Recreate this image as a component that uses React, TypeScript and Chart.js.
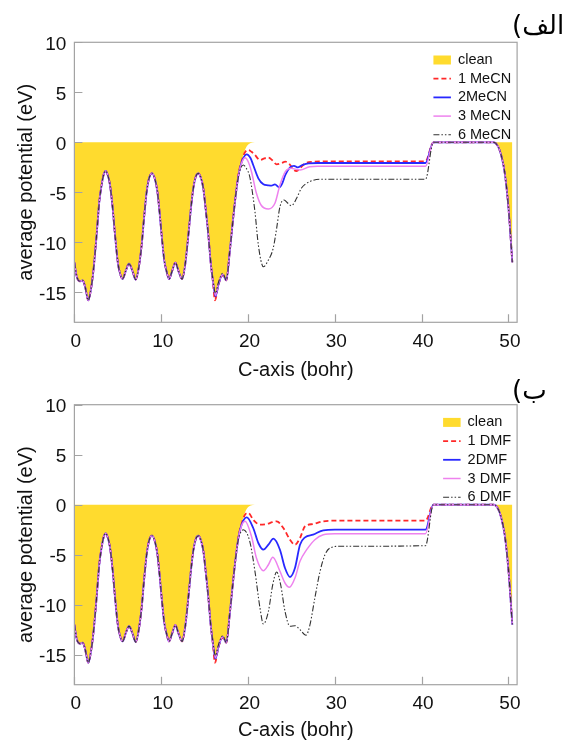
import React, { useEffect, useRef } from 'react';
import { Chart, registerables } from 'chart.js';
Chart.register(...registerables);

const FONT = '"Liberation Sans", Arial, sans-serif';
const X_TICKS = [0, 10, 20, 30, 40, 50];
const Y_TICKS = [-15, -10, -5, 0, 5, 10];

// shared slab profile (all curves coincide here)
const BASE_X = [0, 0.26, 0.65, 0.95, 1.22, 1.6, 1.87, 2.18, 2.56, 2.87, 3.14, 3.35, 3.6, 3.85, 4.1, 4.4, 4.68, 5.0, 5.25, 5.56, 5.9, 6.29, 6.7, 7.06, 7.4, 7.75, 8.05, 8.33, 8.6, 8.94, 9.25, 9.56, 9.8, 10.05, 10.35, 10.63, 10.9, 11.25, 11.63, 12.0, 12.4, 12.75, 13.13, 13.4, 13.7, 14.0, 14.28, 14.55, 14.85, 15.15, 15.43, 15.7];
const BASE_Y = [-12.0, -13.4, -13.9, -13.8, -14.4, -15.8, -14.9, -12.9, -9.27, -5.94, -4.27, -3.3, -2.87, -3.3, -4.27, -6.5, -9.27, -12.0, -13.1, -13.67, -12.9, -12.14, -12.9, -13.74, -12.6, -10.27, -7.3, -4.94, -3.6, -3.1, -3.6, -4.94, -6.9, -9.27, -11.8, -12.94, -13.67, -12.9, -12.04, -12.9, -13.67, -12.3, -9.27, -6.8, -4.6, -3.4, -3.1, -3.5, -4.6, -6.9, -9.27, -12.0];

// shared vacuum edge
const END_X = [48.3, 48.8, 49.2, 49.6, 50.0, 50.45];
const END_Y = [0, -0.4, -1.4, -3.2, -6.5, -12.0];

// clean
const CLEAN_X = [15.95, 16.27, 16.6, 17.08, 17.5, 17.9, 18.5, 18.9, 19.27, 19.6, 19.9, 20.3, 20.8];
const CLEAN_Y = [-13.6, -15.0, -14.0, -13.1, -13.8, -10.9, -5.9, -3.3, -1.9, -0.9, -0.35, -0.08, 0];

// MeCN panel
const MECN1_X = [15.95, 16.2, 16.55, 17.08, 17.5, 17.9, 18.5, 18.9, 19.3, 19.65, 20.04, 20.4, 20.8, 21.38, 21.9, 22.35, 22.8, 23.3, 23.8, 24.3, 24.8, 25.2, 25.6, 26.1, 26.6, 27.5, 28.5, 40.45, 41.35];
const MECN1_Y = [-13.9, -15.8, -14.4, -13.3, -13.8, -10.9, -5.9, -3.2, -1.8, -1.0, -0.77, -0.95, -1.27, -1.77, -1.6, -1.54, -1.8, -2.2, -2.1, -1.94, -2.2, -2.7, -2.87, -2.5, -2.1, -1.94, -1.9, -1.9, 0];
const MECN2_X = [15.95, 16.25, 16.6, 17.08, 17.5, 17.9, 18.5, 18.9, 19.3, 19.85, 20.3, 20.6, 21.19, 21.77, 22.3, 22.7, 23.1, 23.6, 23.95, 24.3, 24.84, 25.3, 25.7, 26.3, 27.0, 28.0, 40.45, 41.35];
const MECN2_Y = [-13.8, -15.4, -14.2, -13.2, -13.8, -10.9, -5.9, -3.3, -1.9, -1.2, -1.6, -2.27, -3.6, -4.2, -4.3, -4.34, -4.2, -4.5, -4.1, -3.27, -2.5, -2.35, -2.5, -2.25, -2.1, -2.07, -2.07, 0];
const MECN3_X = [15.95, 16.25, 16.6, 17.08, 17.5, 17.9, 18.5, 18.9, 19.3, 19.66, 20.0, 20.4, 20.97, 21.5, 22.35, 23.1, 23.68, 24.3, 24.99, 25.5, 26.0, 27.1, 28.0, 40.45, 41.35];
const MECN3_Y = [-13.8, -15.3, -14.1, -13.2, -13.8, -10.9, -5.9, -3.3, -2.0, -1.54, -1.9, -2.94, -5.1, -6.27, -6.67, -6.1, -4.27, -2.94, -2.6, -2.7, -2.77, -2.44, -2.4, -2.4, 0];
const MECN6_X = [15.95, 16.25, 16.6, 17.08, 17.5, 17.9, 18.5, 18.9, 19.2, 19.46, 19.8, 20.2, 20.8, 21.19, 21.77, 22.35, 22.9, 23.3, 23.68, 24.15, 24.6, 24.99, 25.6, 26.14, 27.1, 28.25, 40.45, 41.35];
const MECN6_Y = [-13.7, -15.1, -14.0, -13.1, -13.8, -10.9, -5.9, -3.4, -2.5, -2.27, -2.6, -3.44, -6.94, -10.27, -12.44, -11.77, -10.6, -8.6, -6.44, -5.77, -6.1, -6.34, -5.6, -4.6, -3.94, -3.7, -3.7, 0];

// DMF panel
const DMF1_X = [15.95, 16.2, 16.55, 17.08, 17.5, 17.9, 18.5, 18.9, 19.3, 19.65, 20.04, 20.6, 21.38, 22.15, 22.8, 23.3, 24.07, 24.84, 25.41, 25.99, 26.57, 27.5, 28.68, 30.0, 40.45, 41.35];
const DMF1_Y = [-13.9, -15.8, -14.4, -13.3, -13.8, -10.9, -5.9, -3.2, -1.8, -1.0, -0.83, -1.5, -2.0, -1.93, -1.75, -1.66, -2.33, -3.5, -4.0, -3.33, -2.16, -1.93, -1.66, -1.6, -1.6, 0];
const DMF2_X = [15.95, 16.25, 16.6, 17.08, 17.5, 17.9, 18.5, 18.9, 19.3, 19.85, 20.6, 21.19, 21.77, 22.35, 22.92, 23.68, 24.26, 24.84, 25.41, 25.99, 26.57, 27.5, 28.68, 30.0, 40.45, 41.35];
const DMF2_Y = [-13.8, -15.4, -14.2, -13.2, -13.8, -10.9, -5.9, -3.3, -1.9, -1.27, -2.33, -3.83, -4.5, -4.0, -3.4, -4.5, -6.33, -7.23, -6.33, -4.0, -3.26, -3.0, -2.56, -2.5, -2.5, 0];
const DMF3_X = [15.95, 16.25, 16.6, 17.08, 17.5, 17.9, 18.5, 18.9, 19.3, 19.66, 20.4, 20.97, 21.77, 22.35, 22.85, 23.68, 24.26, 24.76, 25.41, 25.99, 26.76, 27.7, 28.68, 30.0, 40.45, 41.35];
const DMF3_Y = [-13.8, -15.3, -14.1, -13.2, -13.8, -10.9, -5.9, -3.3, -2.0, -1.66, -3.16, -5.33, -6.6, -6.0, -5.26, -6.66, -7.83, -8.26, -7.33, -5.66, -4.5, -3.5, -3.0, -2.9, -2.9, 0];
const DMF6_X = [15.95, 16.25, 16.6, 17.08, 17.5, 17.9, 18.5, 18.9, 19.2, 19.46, 20.2, 20.8, 21.38, 21.77, 22.35, 22.85, 23.3, 23.76, 24.26, 24.84, 25.41, 25.99, 26.68, 27.14, 27.7, 28.3, 28.87, 29.45, 30.6, 40.45, 41.35];
const DMF6_Y = [-13.7, -15.1, -14.0, -13.1, -13.8, -10.9, -5.9, -3.4, -2.7, -2.5, -3.66, -6.66, -10.33, -11.93, -10.66, -8.0, -6.73, -8.0, -10.66, -12.16, -12.1, -12.5, -13.06, -12.0, -9.33, -6.66, -5.0, -4.33, -4.16, -4.1, 0];

const MECN_LABELS = ['clean', '1 MeCN', '2MeCN', '3 MeCN', '6 MeCN'];
const DMF_LABELS = ['clean', '1 DMF', '2DMF', '3 DMF', '6 DMF'];

const YELLOW = 'rgb(255,219,46)';
const STYLES = [
  { color: 'rgb(255,40,40)', width: 1.8, dash: [5, 3] },
  { color: 'rgb(40,40,255)', width: 1.8, dash: [] },
  { color: 'rgb(238,130,238)', width: 1.5, dash: [] },
  { color: 'rgb(50,50,50)', width: 1.1, dash: [6, 2, 1.5, 2, 1.5, 2] },
];

const pts = (xs: number[], ys: number[]) => xs.map((x, i) => ({ x, y: ys[i] }));
const series = (tx: number[], ty: number[]) => [...pts(BASE_X, BASE_Y), ...pts(tx, ty), ...pts(END_X, END_Y)];

const decor = {
  id: 'decor',
  afterDraw(chart: any, _args: any, opts: any) {
    const { ctx, chartArea: a, scales } = chart;
    ctx.save();
    ctx.strokeStyle = '#a3a3a3';
    ctx.lineWidth = 1.2;
    ctx.setLineDash([]);
    ctx.strokeRect(a.left, a.top, a.right - a.left, a.bottom - a.top);
    ctx.beginPath();
    for (const v of Y_TICKS) {
      const y = Math.round(scales.y.getPixelForValue(v)) + 0.5;
      ctx.moveTo(a.left, y);
      ctx.lineTo(a.left + 8, y);
    }
    for (const v of X_TICKS) {
      const x = Math.round(scales.x.getPixelForValue(v)) + 0.5;
      ctx.moveTo(x, a.bottom);
      ctx.lineTo(x, a.bottom - 8);
    }
    ctx.stroke();

    // legend
    const labels: string[] = opts.labels;
    ctx.font = `14.5px ${FONT}`;
    let maxW = 0;
    labels.forEach((l) => (maxW = Math.max(maxW, ctx.measureText(l).width)));
    const textX = a.right - 6 - maxW;
    labels.forEach((l, i) => {
      const cy = a.top + 17.7 + i * 18.7;
      ctx.fillStyle = '#111';
      ctx.textAlign = 'left';
      ctx.textBaseline = 'middle';
      ctx.fillText(l, textX, cy);
      const x0 = textX - 24.5;
      const x1 = textX - 7;
      if (i === 0) {
        ctx.fillStyle = YELLOW;
        ctx.fillRect(x0, cy - 4.5, x1 - x0, 9);
      } else {
        const s = STYLES[i - 1];
        ctx.strokeStyle = s.color;
        ctx.lineWidth = s.width;
        ctx.setLineDash(s.dash);
        ctx.beginPath();
        ctx.moveTo(x0, cy);
        ctx.lineTo(x1, cy);
        ctx.stroke();
        ctx.setLineDash([]);
      }
    });

    // panel label
    ctx.font = `26px "DejaVu Sans", sans-serif`;
    ctx.fillStyle = '#000';
    (ctx as any).direction = 'rtl';
    ctx.textAlign = 'left';
    ctx.textBaseline = 'alphabetic';
    ctx.fillText(opts.tag, 512, opts.tagY);
    ctx.restore();
  },
};

type PanelDef = {
  labels: string[];
  tag: string;
  tagY: number;
  height: number;
  plotTop: number;
  plotBottom: number;
  titlePad: number;
  tails: [number[], number[]][];
};

const PANELS: PanelDef[] = [
  {
    labels: MECN_LABELS, tag: 'الف)', tagY: 34, height: 390, plotTop: 42.3, plotBottom: 322.3, titlePad: 8,
    tails: [[MECN1_X, MECN1_Y], [MECN2_X, MECN2_Y], [MECN3_X, MECN3_Y], [MECN6_X, MECN6_Y]],
  },
  {
    labels: DMF_LABELS, tag: 'ب)', tagY: 27, height: 372, plotTop: 32.7, plotBottom: 312.7, titlePad: 1.5,
    tails: [[DMF1_X, DMF1_Y], [DMF2_X, DMF2_Y], [DMF3_X, DMF3_Y], [DMF6_X, DMF6_Y]],
  },
];

function buildConfig(p: PanelDef): any {
  const datasets: any[] = [
    {
      label: p.labels[0],
      data: series(CLEAN_X, CLEAN_Y).filter((d) => true),
      fill: 'origin',
      backgroundColor: YELLOW,
      borderColor: 'rgba(0,0,0,0)',
      borderWidth: 0,
      pointRadius: 0,
      tension: 0.4,
      cubicInterpolationMode: 'monotone',
      order: 10,
    },
    ...p.tails.map(([tx, ty], i) => ({
      label: p.labels[i + 1],
      data: series(tx, ty),
      fill: false,
      borderColor: STYLES[i].color,
      borderWidth: STYLES[i].width,
      borderDash: STYLES[i].dash,
      pointRadius: 0,
      tension: 0.4,
      cubicInterpolationMode: 'monotone',
      order: 5 - i,
    })),
  ];
  return {
    type: 'line',
    data: { datasets },
    plugins: [decor],
    options: {
      responsive: false,
      animation: false,
      devicePixelRatio: 1,
      layout: { padding: { top: p.plotTop, right: 577 - 517.1, left: 0, bottom: 0 } },
      plugins: {
        legend: { display: false },
        tooltip: { enabled: false },
        decor: { labels: p.labels, tag: p.tag, tagY: p.tagY },
      },
      scales: {
        x: {
          type: 'linear',
          min: 0,
          max: 51,
          afterBuildTicks: (s: any) => { s.ticks = X_TICKS.map((v) => ({ value: v })); },
          afterFit: (s: any) => { s.height = p.height - p.plotBottom; },
          grid: { display: false, drawTicks: false },
          border: { display: false },
          ticks: { font: { family: FONT, size: 19 }, color: '#111', padding: 8, maxRotation: 0, autoSkip: false, labelOffset: 1.5 },
          title: { display: true, text: 'C-axis (bohr)', color: '#111', font: { family: FONT, size: 20 }, padding: { top: 0, bottom: p.titlePad } },
        },
        y: {
          type: 'linear',
          min: -18,
          max: 10,
          afterBuildTicks: (s: any) => { s.ticks = Y_TICKS.map((v) => ({ value: v })); },
          afterFit: (s: any) => { s.width = 74.4; },
          grid: { display: false, drawTicks: false },
          border: { display: false },
          ticks: { font: { family: FONT, size: 19 }, color: '#111', padding: 8, labelOffset: 2.5 },
          title: { display: true, text: 'average potential (eV)', color: '#111', font: { family: FONT, size: 20 }, padding: { top: 14, bottom: 0 } },
        },
      },
    },
  };
}

function Panel({ def, top }: { def: PanelDef; top: number }) {
  const ref = useRef<HTMLCanvasElement>(null);
  useEffect(() => {
    const chart = new Chart(ref.current as HTMLCanvasElement, buildConfig(def));
    return () => chart.destroy();
  }, [def]);
  return (
    <canvas
      ref={ref}
      width={577}
      height={def.height}
      style={{ position: 'absolute', left: 0, top, width: 577, height: def.height }}
    />
  );
}

export default function App() {
  return (
    <div style={{ position: 'absolute', left: 0, top: 0, width: 577, height: 744, background: '#fff' }}>
      <Panel def={PANELS[0]} top={0} />
      <Panel def={PANELS[1]} top={372} />
    </div>
  );
}
